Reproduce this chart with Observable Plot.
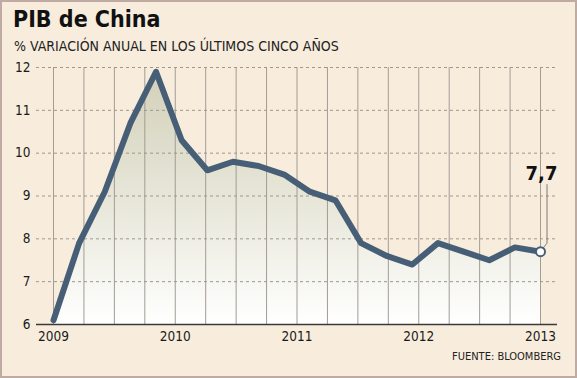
<!DOCTYPE html>
<html>
<head>
<meta charset="utf-8">
<script src="https://cdn.jsdelivr.net/npm/d3@7"></script>
<script src="https://cdn.jsdelivr.net/npm/@observablehq/plot@0.6"></script>
<style>
  html, body { margin: 0; padding: 0; background: #f8eddd; }
  #card {
    position: relative; width: 577px; height: 378px; overflow: hidden;
    background: #f8eddd;
    box-shadow: inset 0 0 0 2px #bfaaa4;
    font-family: "DejaVu Sans Condensed", "DejaVu Sans", sans-serif;
    font-stretch: condensed;
  }
  #title { position: absolute; left: 13px; top: 6px; font-size: 23px; font-weight: bold; color: #111; }
  #subtitle { position: absolute; left: 14px; top: 38px; font-size: 14px; color: #222; }
  #chart { position: absolute; left: 0; top: 55px; }
  #chart svg text { font-size: 13.5px; fill: #1a1a1a; }
  #chart svg g[aria-label="text"] text { font-size: 20px; font-weight: bold; fill: #111; }
  #source { position: absolute; right: 16px; top: 350px; font-size: 11px; color: #222; }
</style>
</head>
<body>
<div id="card">
  <div id="title">PIB de China</div>
  <div id="subtitle">% VARIACIÓN ANUAL EN LOS ÚLTIMOS CINCO AÑOS</div>
  <div id="chart"></div>
  <div id="source">FUENTE: BLOOMBERG</div>
</div>
<script>
// Quarterly GDP growth (% y/y), 2009 Q1 – 2013 Q4
const gdp = [6.1, 7.9, 9.1, 10.7, 11.9, 10.3, 9.6, 9.8, 9.7, 9.5,
             9.1, 8.9, 7.9, 7.6, 7.4, 7.9, 7.7, 7.5, 7.8, 7.7];
const yearTicks = [2009, 2010, 2011, 2012, 2013];
const yTicks = [6, 7, 8, 9, 10, 11, 12];
const lastLabel = "7,7";

const firstYear = yearTicks[0], lastYear = yearTicks[yearTicks.length - 1];
const data = gdp.map((v, i) => ({x: firstYear + i * (lastYear - firstYear) / (gdp.length - 1), v}));
const quarterGrid = d3.range(firstYear, lastYear + 0.001, 0.25);
const last = data[data.length - 1];

const lineColor = "#465f77";

const defs = () => {
  const ns = "http://www.w3.org/2000/svg";
  const d = document.createElementNS(ns, "defs");
  d.innerHTML = `<linearGradient id="areaGrad" x1="0" y1="0" x2="0" y2="1">
      <stop offset="0%" stop-color="#d3d1b9"/>
      <stop offset="55%" stop-color="#e9e8dc"/>
      <stop offset="100%" stop-color="#ffffff"/>
    </linearGradient>`;
  return d;
};

const leader = (index, scales) => {
  const ns = "http://www.w3.org/2000/svg";
  const px = scales.x(last.x), py = scales.y(last.v);
  const p = document.createElementNS(ns, "path");
  p.setAttribute("d", `M${px + 7},${py - 67}V${py - 8}L${px + 3},${py - 3}`);
  p.setAttribute("fill", "none");
  p.setAttribute("stroke", "#807a74");
  p.setAttribute("stroke-width", "1");
  return p;
};

const chart = Plot.plot({
  width: 577,
  height: 300,
  marginLeft: 36,
  marginRight: 20,
  marginTop: 12,
  marginBottom: 31,
  style: {background: "transparent", fontFamily: "'DejaVu Sans Condensed', 'DejaVu Sans', sans-serif", fontSize: "13.5px", color: "#222", overflow: "visible"},
  x: {domain: [firstYear, lastYear], insetLeft: 17, insetRight: 17, ticks: yearTicks, tickFormat: d => String(d), tickSize: 0, tickPadding: 7, label: null},
  y: {domain: [6, 12], ticks: yTicks, tickFormat: d => String(d), tickSize: 0, tickPadding: 6, label: null},
  marks: [
    defs,
    Plot.areaY(data, {x: "x", y1: 6, y2: "v", fill: "url(#areaGrad)"}),
    Plot.ruleX(quarterGrid, {y1: 6, y2: 12, stroke: "#a29c94", strokeWidth: 1}),
    Plot.ruleY(yTicks.filter(t => t > 6), {stroke: "#9c9790", strokeWidth: 1, strokeDasharray: "3,3"}),
    Plot.ruleY([6], {stroke: "#3a3a3a", strokeWidth: 1.5}),
    Plot.line(data, {x: "x", y: "v", stroke: lineColor, strokeWidth: 6, strokeLinejoin: "round", strokeLinecap: "round"}),
    leader,
    Plot.dot([last], {x: "x", y: "v", r: 4.5, fill: "white", stroke: lineColor, strokeWidth: 2}),
    Plot.text([last], {x: "x", y: "v", text: () => lastLabel, dy: -78, dx: 1, fontSize: 20, fontWeight: "bold", fill: "#111"})
  ]
});
document.getElementById("chart").appendChild(chart);
</script>
</body>
</html>
